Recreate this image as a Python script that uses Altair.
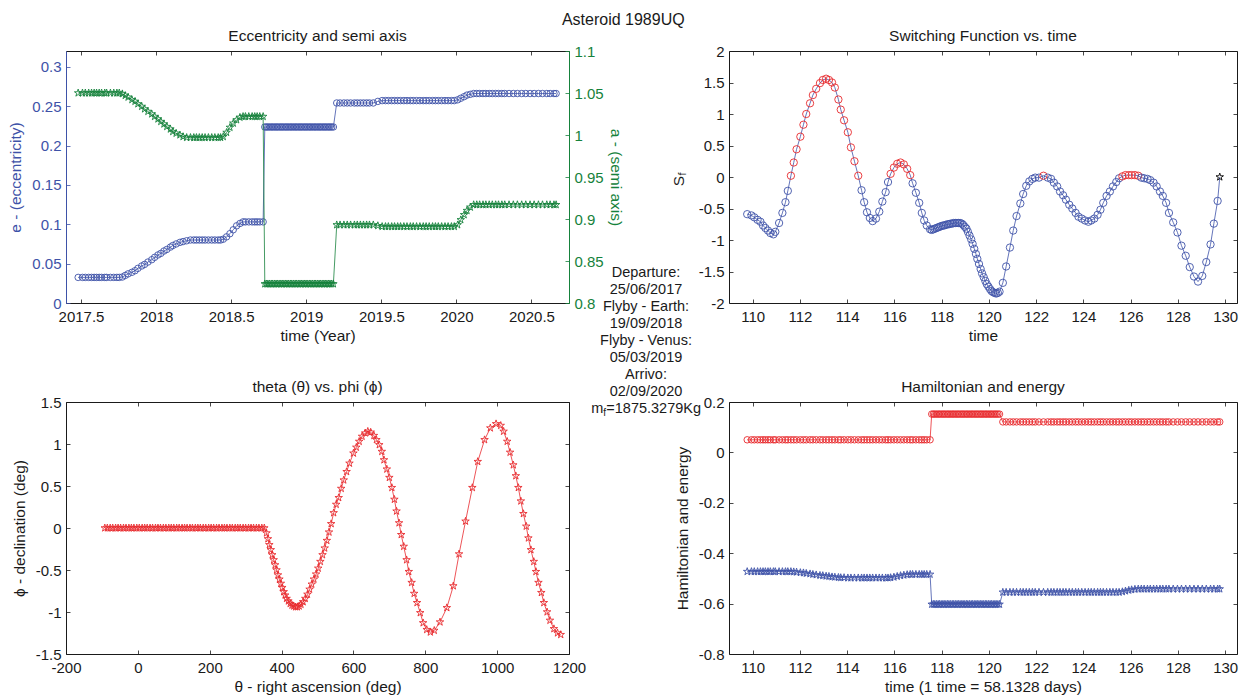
import altair as alt
import pandas as pd

# ---------------- text ----------------
TITLE = "Asteroid 1989UQ"
TITLES = ["Eccentricity and semi axis", "Switching Function vs. time",
          "theta (\u03b8) vs. phi (\u03d5)", "Hamiltonian and energy"]
INFO_LINES = ["Departure:", "25/06/2017", "Flyby - Earth:", "19/09/2018",
              "Flyby - Venus:", "05/03/2019", "Arrivo:", "02/09/2020"]
MASS_TEXT = ["m", "f", "=1875.3279Kg"]
SF_LABEL = ["S", "f"]
DAYS_PER_TIME = 58.1328
DEPARTURE_YEAR = 2017.481

# ---------------- time grid (adimensional time) ----------------
T1 = [109.77, 109.95, 110.07, 110.21, 110.33, 110.44, 110.54, 110.65, 110.75, 110.88,
      110.96, 111.12, 111.26, 111.39, 111.49, 111.62, 111.74, 111.86, 112.02, 112.15,
      112.27, 112.43, 112.55, 112.69, 112.85, 112.97, 113.11, 113.23, 113.36, 113.48,
      113.63, 113.73, 113.87, 114.03, 114.16, 114.31, 114.47, 114.61, 114.72, 114.84,
      114.96, 115.08, 115.22, 115.36, 115.49, 115.63, 115.73, 115.84, 115.98, 116.12,
      116.26, 116.40, 116.54, 116.67, 116.77, 116.91, 117.05, 117.16, 117.26, 117.37,
      117.51]
T2 = [117.58, 117.65, 117.71, 117.78, 117.85, 117.91, 117.98, 118.05, 118.11, 118.18,
      118.25, 118.31, 118.38, 118.45, 118.51, 118.58, 118.65, 118.71, 118.78, 118.85,
      118.91, 118.98, 119.05, 119.11, 119.18, 119.25, 119.31, 119.38, 119.45, 119.51,
      119.58, 119.65, 119.71, 119.78, 119.85, 119.91, 119.98, 120.05, 120.11, 120.18,
      120.25, 120.31, 120.38, 120.45]
T3 = [120.59, 120.73, 120.89, 121.03, 121.17, 121.33, 121.45, 121.58, 121.71, 121.84,
      121.96, 122.12, 122.31, 122.49, 122.63, 122.75, 122.89, 123.01, 123.14, 123.26,
      123.40, 123.53, 123.67, 123.79, 123.93, 124.07, 124.21, 124.33, 124.46, 124.60,
      124.72, 124.84, 124.98, 125.12, 125.25, 125.39, 125.51, 125.65, 125.78, 125.92,
      126.04, 126.18, 126.32, 126.45, 126.57, 126.71, 126.83, 126.97, 127.10, 127.24,
      127.36, 127.50, 127.62, 127.80, 127.98, 128.15, 128.33, 128.50, 128.68, 128.85,
      129.03, 129.20, 129.38, 129.52, 129.68, 129.77]

# switching function
SF1 = [-0.59, -0.61, -0.64, -0.68, -0.71, -0.77, -0.81, -0.85, -0.89, -0.91,
       -0.87, -0.73, -0.57, -0.40, -0.22, 0.02, 0.23, 0.44, 0.64, 0.83,
       1.00, 1.17, 1.30, 1.40, 1.49, 1.54, 1.56, 1.54, 1.50, 1.42,
       1.23, 1.07, 0.90, 0.71, 0.47, 0.25, 0.02, -0.21, -0.40, -0.56,
       -0.65, -0.70, -0.66, -0.55, -0.39, -0.24, -0.08, 0.05, 0.15, 0.21,
       0.23, 0.20, 0.13, 0.03, -0.10, -0.25, -0.41, -0.57, -0.69, -0.77,
       -0.83]
SF2 = [-0.84, -0.83, -0.82, -0.81, -0.80, -0.79, -0.78, -0.77, -0.77, -0.76,
       -0.75, -0.75, -0.74, -0.74, -0.73, -0.73, -0.73, -0.73, -0.73, -0.74,
       -0.76, -0.79, -0.82, -0.87, -0.93, -0.99, -1.06, -1.14, -1.22, -1.30,
       -1.38, -1.46, -1.53, -1.59, -1.65, -1.70, -1.74, -1.78, -1.81, -1.83,
       -1.84, -1.85, -1.84, -1.82]
SF3 = [-1.68, -1.42, -1.12, -0.85, -0.62, -0.42, -0.27, -0.14, -0.07, -0.03,
       -0.01, -0.01, 0.02, -0.01, -0.03, -0.09, -0.15, -0.23, -0.29, -0.36,
       -0.44, -0.50, -0.57, -0.63, -0.66, -0.69, -0.71, -0.69, -0.66, -0.60,
       -0.52, -0.41, -0.30, -0.23, -0.15, -0.08, -0.02, 0.01, 0.03, 0.03,
       0.03, 0.03, 0.02, -0.01, -0.02, -0.03, -0.05, -0.09, -0.15, -0.23,
       -0.30, -0.41, -0.57, -0.72, -0.88, -1.09, -1.25, -1.43, -1.58, -1.66,
       -1.57, -1.35, -1.07, -0.74, -0.38, 0.00]

# Hamiltonian
H1 = [0.050, 0.050, 0.050, 0.050, 0.050, 0.050, 0.050, 0.050, 0.050, 0.050,
      0.050, 0.050, 0.050, 0.050, 0.050, 0.050, 0.050, 0.050, 0.050, 0.050,
      0.050, 0.050, 0.050, 0.050, 0.050, 0.050, 0.050, 0.050, 0.050, 0.050,
      0.050, 0.050, 0.050, 0.050, 0.050, 0.050, 0.050, 0.050, 0.050, 0.050,
      0.050, 0.050, 0.050, 0.050, 0.050, 0.050, 0.050, 0.050, 0.050, 0.050,
      0.050, 0.050, 0.050, 0.050, 0.050, 0.050, 0.050, 0.050, 0.050, 0.050,
      0.050]
H2 = [0.152, 0.152, 0.152, 0.152, 0.152, 0.152, 0.152, 0.152, 0.152, 0.152,
      0.152, 0.152, 0.152, 0.152, 0.152, 0.152, 0.152, 0.152, 0.152, 0.152,
      0.152, 0.152, 0.152, 0.152, 0.152, 0.152, 0.152, 0.152, 0.152, 0.152,
      0.152, 0.152, 0.152, 0.152, 0.152, 0.152, 0.152, 0.152, 0.152, 0.152,
      0.152, 0.152, 0.152, 0.152]
H3 = [0.121, 0.121, 0.121, 0.121, 0.121, 0.121, 0.121, 0.121, 0.121, 0.121,
      0.121, 0.121, 0.121, 0.121, 0.121, 0.121, 0.121, 0.121, 0.121, 0.121,
      0.121, 0.121, 0.121, 0.121, 0.121, 0.121, 0.121, 0.121, 0.121, 0.121,
      0.121, 0.121, 0.121, 0.121, 0.121, 0.121, 0.121, 0.121, 0.121, 0.121,
      0.121, 0.121, 0.121, 0.121, 0.121, 0.121, 0.121, 0.121, 0.121, 0.121,
      0.121, 0.121, 0.121, 0.121, 0.121, 0.121, 0.121, 0.121, 0.121, 0.121,
      0.121, 0.121, 0.121, 0.121, 0.121, 0.121]

# energy
E1 = [-0.473, -0.473, -0.473, -0.473, -0.473, -0.473, -0.473, -0.473, -0.473, -0.473,
      -0.473, -0.473, -0.473, -0.473, -0.473, -0.473, -0.474, -0.475, -0.477, -0.478,
      -0.480, -0.482, -0.484, -0.486, -0.488, -0.489, -0.491, -0.492, -0.494, -0.495,
      -0.496, -0.497, -0.497, -0.498, -0.498, -0.498, -0.498, -0.498, -0.498, -0.498,
      -0.498, -0.498, -0.498, -0.498, -0.498, -0.498, -0.498, -0.497, -0.495, -0.492,
      -0.489, -0.487, -0.485, -0.484, -0.484, -0.484, -0.484, -0.484, -0.484, -0.484,
      -0.484]
E2 = [-0.603, -0.603, -0.603, -0.603, -0.603, -0.603, -0.603, -0.603, -0.603, -0.603,
      -0.603, -0.603, -0.603, -0.603, -0.603, -0.603, -0.603, -0.603, -0.603, -0.603,
      -0.603, -0.603, -0.603, -0.603, -0.603, -0.603, -0.603, -0.603, -0.603, -0.603,
      -0.603, -0.603, -0.603, -0.603, -0.603, -0.603, -0.603, -0.603, -0.603, -0.603,
      -0.603, -0.603, -0.603, -0.603]
E3 = [-0.555, -0.555, -0.555, -0.555, -0.555, -0.555, -0.555, -0.555, -0.555, -0.555,
      -0.555, -0.555, -0.555, -0.555, -0.555, -0.555, -0.555, -0.555, -0.555, -0.555,
      -0.555, -0.555, -0.555, -0.555, -0.555, -0.555, -0.555, -0.555, -0.555, -0.555,
      -0.555, -0.555, -0.555, -0.555, -0.555, -0.555, -0.555, -0.553, -0.550, -0.547,
      -0.545, -0.543, -0.542, -0.542, -0.542, -0.542, -0.542, -0.542, -0.542, -0.542,
      -0.542, -0.542, -0.542, -0.542, -0.542, -0.542, -0.542, -0.542, -0.542, -0.542,
      -0.542, -0.542, -0.542, -0.542, -0.542, -0.542]

# eccentricity
ECC1 = [0.0325, 0.0325, 0.0325, 0.0325, 0.0325, 0.0325, 0.0325, 0.0325, 0.0325, 0.0325,
        0.0325, 0.0325, 0.0325, 0.0325, 0.0325, 0.033, 0.035, 0.037, 0.039, 0.041,
        0.044, 0.047, 0.049, 0.052, 0.055, 0.058, 0.061, 0.063, 0.066, 0.068,
        0.071, 0.073, 0.075, 0.077, 0.078, 0.079, 0.080, 0.080, 0.080, 0.080,
        0.080, 0.080, 0.080, 0.080, 0.080, 0.080, 0.080, 0.081, 0.084, 0.088,
        0.093, 0.098, 0.101, 0.103, 0.103, 0.103, 0.103, 0.103, 0.103, 0.103,
        0.103]
ECC2 = [0.2235, 0.2235, 0.2235, 0.2235, 0.2235, 0.2235, 0.2235, 0.2235, 0.2235, 0.2235,
        0.2235, 0.2235, 0.2235, 0.2235, 0.2235, 0.2235, 0.2235, 0.2235, 0.2235, 0.2235,
        0.2235, 0.2235, 0.2235, 0.2235, 0.2235, 0.2235, 0.2235, 0.2235, 0.2235, 0.2235,
        0.2235, 0.2235, 0.2235, 0.2235, 0.2235, 0.2235, 0.2235, 0.2235, 0.2235, 0.2235,
        0.2235, 0.2235, 0.2235, 0.2235]
ECC3 = [0.254, 0.254, 0.254, 0.254, 0.254, 0.254, 0.254, 0.254, 0.254, 0.254,
        0.254, 0.254, 0.256, 0.257, 0.257, 0.257, 0.257, 0.257, 0.257, 0.257,
        0.257, 0.257, 0.257, 0.257, 0.257, 0.257, 0.257, 0.257, 0.257, 0.257,
        0.257, 0.257, 0.257, 0.257, 0.257, 0.257, 0.257, 0.258, 0.260, 0.262,
        0.264, 0.265, 0.266, 0.266, 0.266, 0.266, 0.266, 0.266, 0.266, 0.266,
        0.266, 0.266, 0.266, 0.266, 0.266, 0.266, 0.266, 0.266, 0.266, 0.266,
        0.266, 0.266, 0.266, 0.266, 0.266, 0.266]

# semi axis
SMA1 = [1.050, 1.050, 1.050, 1.050, 1.050, 1.050, 1.050, 1.050, 1.050, 1.050,
        1.050, 1.050, 1.050, 1.050, 1.050, 1.049, 1.047, 1.045, 1.042, 1.040,
        1.037, 1.034, 1.031, 1.028, 1.025, 1.022, 1.019, 1.016, 1.013, 1.010,
        1.007, 1.004, 1.002, 1.000, 0.998, 0.997, 0.997, 0.997, 0.997, 0.997,
        0.997, 0.997, 0.997, 0.997, 0.997, 0.997, 0.997, 0.998, 1.003, 1.009,
        1.014, 1.018, 1.021, 1.022, 1.022, 1.022, 1.022, 1.022, 1.022, 1.022,
        1.022]
SMA2 = [0.8227, 0.8227, 0.8227, 0.8227, 0.8227, 0.8227, 0.8227, 0.8227, 0.8227, 0.8227,
        0.8227, 0.8227, 0.8227, 0.8227, 0.8227, 0.8227, 0.8227, 0.8227, 0.8227, 0.8227,
        0.8227, 0.8227, 0.8227, 0.8227, 0.8227, 0.8227, 0.8227, 0.8227, 0.8227, 0.8227,
        0.8227, 0.8227, 0.8227, 0.8227, 0.8227, 0.8227, 0.8227, 0.8227, 0.8227, 0.8227,
        0.8227, 0.8227, 0.8227, 0.8227]
SMA3 = [0.893, 0.893, 0.893, 0.893, 0.893, 0.893, 0.893, 0.893, 0.893, 0.893,
        0.893, 0.893, 0.892, 0.891, 0.891, 0.891, 0.891, 0.891, 0.891, 0.891,
        0.891, 0.891, 0.891, 0.891, 0.891, 0.891, 0.891, 0.891, 0.891, 0.891,
        0.891, 0.891, 0.891, 0.891, 0.891, 0.891, 0.891, 0.893, 0.899, 0.905,
        0.910, 0.914, 0.917, 0.917, 0.917, 0.917, 0.917, 0.917, 0.917, 0.917,
        0.917, 0.917, 0.917, 0.917, 0.917, 0.917, 0.917, 0.917, 0.917, 0.917,
        0.917, 0.917, 0.917, 0.917, 0.917, 0.917]

# right ascension / declination
TH1 = [-92, -85, -77, -70, -62, -55, -48, -40, -33, -25,
       -18, -11, -3, 4, 12, 19, 26, 34, 41, 49,
       56, 63, 71, 78, 86, 93, 100, 108, 115, 123,
       130, 137, 145, 152, 160, 167, 174, 182, 189, 197,
       204, 211, 219, 226, 234, 241, 248, 256, 263, 271,
       278, 285, 293, 300, 308, 315, 322, 330, 337, 345,
       352]
PH1 = [0, 0, 0, 0, 0, 0, 0, 0, 0, 0,
       0, 0, 0, 0, 0, 0, 0, 0, 0, 0,
       0, 0, 0, 0, 0, 0, 0, 0, 0, 0,
       0, 0, 0, 0, 0, 0, 0, 0, 0, 0,
       0, 0, 0, 0, 0, 0, 0, 0, 0, 0,
       0, 0, 0, 0, 0, 0, 0, 0, 0, 0,
       0]
TH2 = [358, 362, 366, 370, 374, 378, 382, 386, 390, 394,
       398, 402, 406, 410, 414, 419, 424, 429, 434, 439,
       444, 449, 454, 460, 466, 472, 478, 484, 490, 496,
       502, 508, 514, 520, 526, 532, 538, 545, 552, 559,
       566, 573, 581, 589]
PH2 = [-0.06, -0.13, -0.20, -0.26, -0.32, -0.38, -0.44, -0.50, -0.56, -0.61,
       -0.66, -0.71, -0.76, -0.80, -0.84, -0.87, -0.90, -0.92, -0.93, -0.94,
       -0.94, -0.93, -0.91, -0.88, -0.84, -0.79, -0.73, -0.67, -0.61, -0.55,
       -0.48, -0.40, -0.32, -0.24, -0.15, -0.05, 0.05, 0.18, 0.28, 0.36,
       0.47, 0.57, 0.67, 0.77]
TH3 = [600, 608, 616, 624, 633, 640, 648, 657, 664, 672,
       679, 685, 693, 700, 707, 714, 720, 727, 733, 740,
       748, 754, 762, 769, 777, 786, 794, 804, 814, 825,
       841, 860, 878, 894, 912, 931, 946, 965, 981, 997,
       1010, 1018, 1028, 1036, 1045, 1052, 1059, 1066, 1073, 1081,
       1087, 1094, 1102, 1108, 1115, 1123, 1130, 1139, 1147, 1158,
       1168, 1177]
PH3 = [0.89, 0.96, 1.03, 1.09, 1.13, 1.15, 1.14, 1.10, 1.05, 0.99,
       0.91, 0.81, 0.70, 0.60, 0.48, 0.34, 0.20, 0.06, -0.08, -0.22,
       -0.38, -0.52, -0.65, -0.78, -0.89, -1.01, -1.13, -1.21, -1.24, -1.22,
       -1.12, -0.95, -0.69, -0.31, 0.08, 0.48, 0.79, 1.05, 1.19, 1.24,
       1.22, 1.15, 1.03, 0.90, 0.75, 0.62, 0.48, 0.32, 0.17, 0.02,
       -0.12, -0.26, -0.40, -0.52, -0.65, -0.77, -0.89, -1.00, -1.10, -1.20,
       -1.25, -1.27]

# axis ticks / limits
YEAR_TICKS = [2017.5, 2018, 2018.5, 2019, 2019.5, 2020, 2020.5]
YEAR_DOMAIN = [2017.4, 2020.75]
ECC_TICKS = [0, 0.05, 0.1, 0.15, 0.2, 0.25, 0.3]
ECC_DOMAIN = [0, 0.32]
SMA_TICKS = [0.8, 0.85, 0.9, 0.95, 1, 1.05, 1.1]
SMA_DOMAIN = [0.8, 1.1]
T_TICKS = [110, 112, 114, 116, 118, 120, 122, 124, 126, 128, 130]
T_DOMAIN = [109, 130.5]
SF_TICKS = [-2, -1.5, -1, -0.5, 0, 0.5, 1, 1.5, 2]
SF_DOMAIN = [-2, 2]
TH_TICKS = [-200, 0, 200, 400, 600, 800, 1000, 1200]
TH_DOMAIN = [-200, 1200]
PH_TICKS = [-1.5, -1, -0.5, 0, 0.5, 1, 1.5]
PH_DOMAIN = [-1.5, 1.5]
HE_TICKS = [-0.8, -0.6, -0.4, -0.2, 0, 0.2]
HE_DOMAIN = [-0.8, 0.2]

# ---------------- style ----------------
FONT = "Liberation Sans"
BLUE = "#3e52a8"
GREEN = "#16823c"
RED = "#e82a2e"
INK = "#1a1a1a"
STAR = ("M0,-1L0.2245,-0.309L0.9511,-0.309L0.3633,0.118L0.5878,0.809L0,0.382"
        "L-0.5878,0.809L-0.3633,0.118L-0.9511,-0.309L-0.2245,-0.309Z")
WL, WR, H = 503, 508, 252
LBL = "'' + datum.value"

# ---------------- data frames ----------------
t_all = T1 + T2 + T3
df = pd.DataFrame({
    "t": t_all,
    "sf": SF1 + SF2 + SF3,
    "ham": H1 + H2 + H3,
    "en": E1 + E2 + E3,
    "ecc": ECC1 + ECC2 + ECC3,
    "sma": SMA1 + SMA2 + SMA3,
})
df["i"] = range(len(df))
df["year"] = DEPARTURE_YEAR + (df["t"] - T1[0]) * DAYS_PER_TIME / 365.25
df["last"] = df["i"] == len(df) - 1

dfa = pd.DataFrame({"theta": TH1 + TH2 + TH3, "phi": PH1 + PH2 + PH3})
dfa["i"] = range(len(dfa))

info_df = pd.DataFrame({"label": ["\n".join(INFO_LINES)]})
mass_df = pd.DataFrame({"m": [MASS_TEXT[0]], "f": [MASS_TEXT[1]], "v": [MASS_TEXT[2]]})
sf_df = pd.DataFrame({"s": [SF_LABEL[0]], "f": [SF_LABEL[1]]})


def sc(d):
    return alt.Scale(domain=d, nice=False, zero=False)


def ax_bottom(vals, title):
    return alt.Axis(orient="bottom", values=vals, title=title, offset=-4, tickSize=4,
                    domain=False, grid=False, labelPadding=6, labelExpr=LBL,
                    labelFlush=False, labelOverlap=False, tickColor=INK,
                    labelColor=INK, titleColor=INK, titlePadding=4)


def ax_top(vals):
    return alt.Axis(orient="top", values=vals, title=None, offset=-4, tickSize=4,
                    domain=False, grid=False, labels=False, tickColor=INK)


def ax_left(vals, title, color=INK, tpad=8):
    return alt.Axis(orient="left", values=vals, title=title, offset=-4, tickSize=4,
                    domain=False, grid=False, labelPadding=5, labelExpr=LBL,
                    labelFlush=False, labelOverlap=False, tickColor=color,
                    labelColor=color, titleColor=color, titlePadding=tpad)


def ax_right(vals, title=None, color=INK, labels=False, tpad=4):
    return alt.Axis(orient="right", values=vals, title=title, offset=-4, tickSize=4,
                    domain=False, grid=False, labels=labels, labelPadding=5,
                    labelExpr=LBL, labelFlush=False, labelOverlap=False,
                    tickColor=color, labelColor=color, titleColor=color,
                    titlePadding=tpad)


def ax_domain(orient, color):
    return alt.Axis(orient=orient, domain=True, domainColor=color, domainWidth=1,
                    ticks=False, labels=False, grid=False, title=None)


def panel_title(text):
    return alt.TitleParams(text, frame="group", offset=0, font=FONT, fontSize=15.5,
                           fontWeight="normal", color=INK)


# ---------------- panel 1: eccentricity and semi axis ----------------
xs1 = sc(YEAR_DOMAIN)
b1 = alt.Chart(df)
e_line = b1.mark_line(color=BLUE, strokeWidth=0.8).encode(
    x=alt.X("year:Q", scale=xs1, axis=None),
    y=alt.Y("ecc:Q", scale=sc(ECC_DOMAIN), axis=ax_domain("left", BLUE)),
    order="i:Q")
e_pts = b1.mark_point(shape="circle", filled=False, size=42, strokeWidth=0.9,
                      color=BLUE, opacity=1).encode(
    x=alt.X("year:Q", scale=xs1, axis=ax_bottom(YEAR_TICKS, "time (Year)")),
    y=alt.Y("ecc:Q", scale=sc(ECC_DOMAIN),
            axis=ax_left(ECC_TICKS, "e - (eccentricity)", BLUE, 8)))
a_line = b1.mark_line(color=GREEN, strokeWidth=0.8).encode(
    x=alt.X("year:Q", scale=xs1, axis=None),
    y=alt.Y("sma:Q", scale=sc(SMA_DOMAIN), axis=ax_domain("right", GREEN)),
    order="i:Q")
a_pts = b1.mark_point(shape=STAR, filled=False, size=62, strokeWidth=0.9,
                      color=GREEN, opacity=1).encode(
    x=alt.X("year:Q", scale=xs1, axis=ax_top(YEAR_TICKS)),
    y=alt.Y("sma:Q", scale=sc(SMA_DOMAIN),
            axis=ax_right(SMA_TICKS, "a - (semi axis)", GREEN, True, 4)))

info = alt.Chart(info_df).mark_text(font=FONT, fontSize=14.5, color=INK, align="center",
                                    baseline="middle", lineBreak="\n",
                                    lineHeight=17.1).encode(
    text="label:N", x=alt.value(580), y=alt.value(221.7))
mass_m = alt.Chart(mass_df).mark_text(font=FONT, fontSize=14.5, color=INK, align="left",
                                      baseline="middle").encode(
    text="m:N", x=alt.value(525.2), y=alt.value(358.3))
mass_f = alt.Chart(mass_df).mark_text(font=FONT, fontSize=10, color=INK, align="left",
                                      baseline="middle").encode(
    text="f:N", x=alt.value(537.3), y=alt.value(362.3))
mass_v = alt.Chart(mass_df).mark_text(font=FONT, fontSize=14.5, color=INK, align="left",
                                      baseline="middle").encode(
    text="v:N", x=alt.value(540.3), y=alt.value(358.3))

p1 = alt.layer(e_line, e_pts, a_line, a_pts, info, mass_m, mass_f, mass_v).resolve_scale(
    y="independent").resolve_axis(x="independent", y="independent").properties(
    width=WL, height=H, title=panel_title(TITLES[0]))

# ---------------- panel 2: switching function ----------------
xs2, ys2 = sc(T_DOMAIN), sc(SF_DOMAIN)
sf_line = alt.Chart(df).mark_line(color=BLUE, strokeWidth=0.8).encode(
    x=alt.X("t:Q", scale=xs2, axis=ax_top(T_TICKS)),
    y=alt.Y("sf:Q", scale=ys2, axis=ax_right(SF_TICKS)),
    order="i:Q")
sf_pts = alt.Chart(df).transform_filter("!datum.last").mark_point(
    shape="circle", filled=False, size=54, strokeWidth=0.9, opacity=1).encode(
    x=alt.X("t:Q", scale=xs2, axis=ax_bottom(T_TICKS, "time")),
    y=alt.Y("sf:Q", scale=ys2, axis=ax_left(SF_TICKS, None)),
    color=alt.condition("datum.sf > 0", alt.value(RED), alt.value(BLUE)))
sf_end = alt.Chart(df).transform_filter("datum.last").mark_point(
    shape=STAR, filled=False, size=62, strokeWidth=0.9, color="black", opacity=1).encode(
    x=alt.X("t:Q", scale=xs2, axis=None),
    y=alt.Y("sf:Q", scale=ys2, axis=None))
sf_s = alt.Chart(sf_df).mark_text(font=FONT, fontSize=15.5, color=INK, angle=270,
                                  align="center", baseline="middle").encode(
    text="s:N", x=alt.value(-50), y=alt.value(130))
sf_f = alt.Chart(sf_df).mark_text(font=FONT, fontSize=10.5, color=INK, angle=270,
                                  align="center", baseline="middle").encode(
    text="f:N", x=alt.value(-46.5), y=alt.value(123))

p2 = alt.layer(sf_line, sf_pts, sf_end, sf_s, sf_f).resolve_axis(
    x="independent", y="independent").properties(
    width=WR, height=H, title=panel_title(TITLES[1]))

# ---------------- panel 3: theta vs phi ----------------
xs3, ys3 = sc(TH_DOMAIN), sc(PH_DOMAIN)
tp_line = alt.Chart(dfa).mark_line(color=RED, strokeWidth=0.8).encode(
    x=alt.X("theta:Q", scale=xs3, axis=ax_top(TH_TICKS)),
    y=alt.Y("phi:Q", scale=ys3, axis=ax_right(PH_TICKS)),
    order="i:Q")
tp_pts = alt.Chart(dfa).mark_point(shape=STAR, filled=False, size=62, strokeWidth=0.9,
                                   color=RED, opacity=1).encode(
    x=alt.X("theta:Q", scale=xs3, axis=ax_bottom(TH_TICKS, "\u03b8 - right ascension (deg)")),
    y=alt.Y("phi:Q", scale=ys3, axis=ax_left(PH_TICKS, "\u03d5 - declination (deg)", INK, 8)))
p3 = alt.layer(tp_line, tp_pts).resolve_axis(x="independent", y="independent").properties(
    width=WL, height=H, title=panel_title(TITLES[2]))

# ---------------- panel 4: Hamiltonian and energy ----------------
xs4, ys4 = sc(T_DOMAIN), sc(HE_DOMAIN)
h_line = alt.Chart(df).mark_line(color=RED, strokeWidth=0.8).encode(
    x=alt.X("t:Q", scale=xs4, axis=ax_top(T_TICKS)),
    y=alt.Y("ham:Q", scale=ys4, axis=ax_right(HE_TICKS)),
    order="i:Q")
h_pts = alt.Chart(df).mark_point(shape="circle", filled=False, size=42, strokeWidth=0.9,
                                 color=RED, opacity=1).encode(
    x=alt.X("t:Q", scale=xs4, axis=ax_bottom(T_TICKS, "time (1 time = 58.1328 days)")),
    y=alt.Y("ham:Q", scale=ys4, axis=ax_left(HE_TICKS, "Hamiltonian and energy", INK, 8)))
en_line = alt.Chart(df).mark_line(color=BLUE, strokeWidth=0.8).encode(
    x=alt.X("t:Q", scale=xs4, axis=None),
    y=alt.Y("en:Q", scale=ys4, axis=None),
    order="i:Q")
en_pts = alt.Chart(df).mark_point(shape=STAR, filled=False, size=62, strokeWidth=0.9,
                                  color=BLUE, opacity=1).encode(
    x=alt.X("t:Q", scale=xs4, axis=None),
    y=alt.Y("en:Q", scale=ys4, axis=None))
p4 = alt.layer(h_line, h_pts, en_line, en_pts).resolve_axis(
    x="independent", y="independent").properties(
    width=WR, height=H, title=panel_title(TITLES[3]))

chart = alt.concat(p1, p2, p3, p4, columns=2,
                   spacing=alt.RowColnumber(row=99, column=160),
                   bounds="flush", align="each").properties(
    title=alt.TitleParams(TITLE, anchor="middle", offset=0, font=FONT, fontSize=16,
                          fontWeight="normal", color=INK),
    padding={"left": 0, "top": 4, "right": 2, "bottom": 0},
    background="white",
).configure_view(stroke=INK, strokeWidth=1).configure_axis(
    labelFont=FONT, titleFont=FONT, labelFontSize=15, titleFontSize=15.5,
    titleFontWeight="normal", tickWidth=0.8)

chart.save("out.html", embed_options={"renderer": "svg", "actions": False})
